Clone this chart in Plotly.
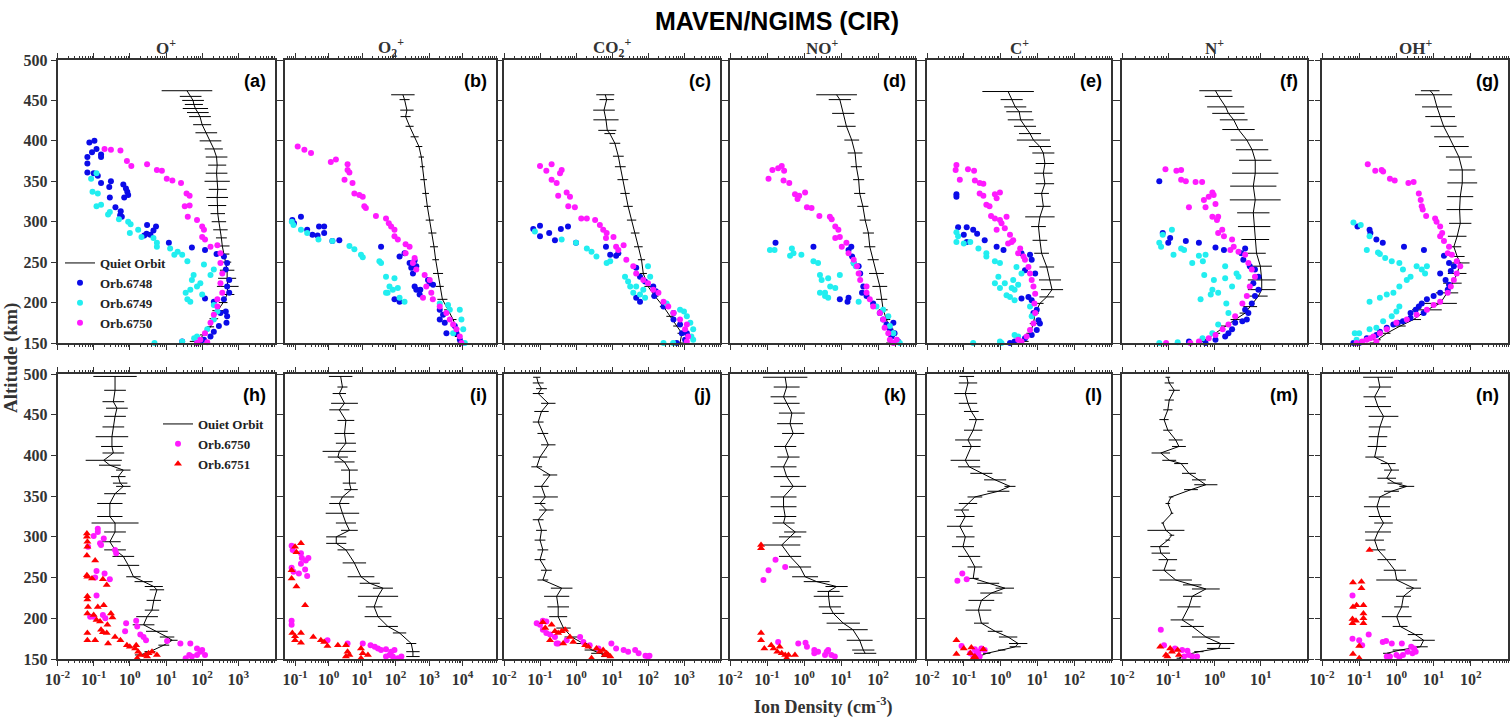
import plotly.graph_objects as go

W, H = 1510, 722

# ---------------- data ----------------
# top row quiet orbits: altitude (km), density (cm^-3), error half-width (decades)
a_q_alt = [462, 455, 450, 445, 440, 435, 430, 420, 410, 400, 390, 380, 370, 360, 350, 340, 330, 320, 310, 300, 290, 280, 270, 260, 250, 240, 230, 220, 210, 200, 190, 180, 170, 160, 152]
a_q_den = [38, 48, 56, 59, 65, 76, 87, 100, 130, 170, 210, 250, 260, 250, 260, 270, 260, 260, 270, 290, 320, 340, 360, 400, 450, 490, 490, 510, 490, 380, 270, 210, 170, 110, 72]
a_q_err = [0.7, 0.3, 0.3, 0.25, 0.35, 0.3, 0.3, 0.25, 0.3, 0.3, 0.25, 0.3, 0.25, 0.3, 0.35, 0.25, 0.3, 0.25, 0.2, 0.2, 0.2, 0.15, 0.2, 0.15, 0.15, 0.2, 0.25, 0.3, 0.2, 0.12, 0.15, 0.12, 0.1, 0.1, 0.2]

b_q_alt = [457, 451, 438, 430, 418, 405, 393, 380, 368, 352, 335, 319, 302, 286, 269, 253, 236, 220, 204, 191, 179, 168, 158, 150]
b_q_den = [166, 186, 219, 200, 263, 372, 501, 589, 631, 692, 794, 891, 1050, 1260, 1410, 1580, 1860, 2090, 2510, 3720, 5250, 6610, 7410, 7940]
b_q_err = [0.35, 0.15, 0.2, 0.15, 0.12, 0.12, 0.1, 0.08, 0.07, 0.1, 0.1, 0.1, 0.12, 0.12, 0.12, 0.1, 0.15, 0.12, 0.15, 0.12, 0.1, 0.08, 0.1, 0.05]

c_q_alt = [457, 451, 438, 426, 413, 409, 397, 381, 368, 352, 335, 319, 302, 286, 269, 253, 236, 220, 208, 195, 183, 171, 162, 150]
c_q_den = [6.5, 7.1, 6.0, 6.8, 7.4, 8.7, 12, 15, 17, 20, 23, 28, 35, 44, 54, 66, 74, 100, 155, 269, 407, 631, 871, 776]
c_q_err = [0.25, 0.2, 0.3, 0.35, 0.25, 0.15, 0.15, 0.15, 0.15, 0.15, 0.13, 0.13, 0.13, 0.12, 0.12, 0.1, 0.1, 0.1, 0.1, 0.1, 0.1, 0.1, 0.12, 0.15]

d_q_alt = [457, 451, 434, 418, 401, 385, 368, 352, 335, 319, 302, 286, 269, 253, 236, 220, 204, 191, 179, 167, 158, 150]
d_q_den = [7.6, 9.3, 11.5, 14, 19.5, 24, 26, 30, 32, 39, 45, 55, 60, 74, 91, 112, 126, 138, 170, 209, 234, 209]
d_q_err = [0.55, 0.3, 0.3, 0.25, 0.2, 0.2, 0.15, 0.15, 0.15, 0.15, 0.15, 0.15, 0.15, 0.15, 0.2, 0.2, 0.15, 0.12, 0.1, 0.1, 0.08, 0.1]

e_q_alt = [461, 451, 442, 436, 426, 418, 409, 401, 393, 385, 372, 360, 347, 335, 319, 306, 294, 277, 261, 244, 228, 216, 207, 199, 187, 174, 162, 152]
e_q_den = [1.6, 2.0, 2.5, 3.2, 3.5, 4.6, 6.3, 7.8, 11.7, 14.5, 16, 14.5, 16, 13, 14.5, 11.7, 10.7, 11.7, 13, 18, 22, 25, 18, 11.7, 8.7, 7.8, 6.3, 4.6]
e_q_err = [0.7, 0.3, 0.3, 0.35, 0.35, 0.3, 0.3, 0.45, 0.3, 0.3, 0.25, 0.25, 0.25, 0.2, 0.2, 0.4, 0.2, 0.2, 0.2, 0.2, 0.3, 0.3, 0.2, 0.1, 0.1, 0.1, 0.1, 0.1]

f_q_alt = [462, 455, 442, 434, 426, 414, 401, 389, 376, 360, 344, 327, 311, 294, 278, 261, 245, 228, 216, 208, 195, 187, 179, 171, 162, 154, 150]
f_q_den = [1.05, 1.23, 1.74, 2.0, 2.6, 3.3, 5.0, 6.5, 7.6, 7.6, 6.9, 7.6, 6.9, 7.2, 7.6, 8.1, 9.8, 10.5, 10.5, 8.9, 5.9, 4.6, 2.8, 1.74, 1.05, 0.65, 0.46]
f_q_err = [0.35, 0.3, 0.4, 0.35, 0.3, 0.35, 0.35, 0.35, 0.35, 0.5, 0.5, 0.55, 0.35, 0.35, 0.3, 0.2, 0.25, 0.3, 0.3, 0.2, 0.15, 0.12, 0.1, 0.1, 0.1, 0.08, 0.05]

g_q_alt = [462, 457, 442, 430, 418, 405, 393, 380, 364, 348, 331, 315, 298, 282, 269, 257, 249, 236, 224, 212, 199, 191, 179, 171, 162, 154, 150]
g_q_den = [8.1, 10, 12.3, 15, 18.6, 26, 35, 48, 59, 59, 52, 50, 52, 43, 35, 43, 52, 43, 32, 23, 15, 6.6, 2.9, 1.26, 0.55, 0.3, 0.24]
g_q_err = [0.25, 0.5, 0.4, 0.4, 0.35, 0.4, 0.4, 0.35, 0.35, 0.4, 0.35, 0.35, 0.3, 0.25, 0.2, 0.2, 0.25, 0.25, 0.25, 0.3, 0.45, 0.4, 0.2, 0.15, 0.1, 0.1, 0.1]

# top row storm-time orbits
a_6748_den = [0.076, 0.105, 0.09, 0.12, 0.16, 0.16, 0.067, 0.067, 0.067, 0.1, 0.13, 0.16, 0.3, 0.27, 0.66, 0.78, 0.85, 0.7, 0.9, 0.28, 0.4, 0.56, 0.54, 0.6, 3.0, 5.3, 4.5, 3.7, 2.9, 2.5, 12, 52, 120, 250, 400, 490, 450, 560, 490, 560, 400, 120, 210, 450, 490, 470, 290, 210, 170, 112, 72, 28, 89, 320]
a_6748_alt = [398, 400, 386, 390, 383, 380, 380, 372, 361, 360, 357, 348, 350, 343, 346, 341, 337, 330, 333, 330, 318, 313, 308, 306, 296, 294, 289, 284, 285, 283, 274, 268, 265, 260, 257, 249, 241, 228, 220, 212, 204, 205, 201, 189, 183, 175, 171, 164, 158, 154, 150, 152, 152, 187]
a_6749_den = [0.12, 0.085, 0.093, 0.13, 0.12, 0.16, 0.28, 0.25, 0.5, 0.9, 1.05, 1.7, 1.0, 2.1, 4.5, 5.6, 5.6, 13, 21, 17, 28, 39, 112, 210, 170, 58, 52, 89, 72, 47, 35, 100, 39, 47, 210, 263, 210, 138, 72, 28, 4.8, 60]
a_6749_alt = [360, 353, 337, 335, 319, 321, 312, 309, 303, 300, 297, 290, 286, 281, 280, 274, 269, 267, 263, 259, 259, 251, 247, 241, 234, 234, 228, 224, 220, 216, 212, 210, 204, 201, 197, 189, 179, 167, 158, 152, 150, 156]
a_6750_den = [0.2, 0.3, 0.55, 0.83, 1.1, 3.0, 5.6, 7.7, 10.5, 15, 26, 37, 45, 33, 45, 40, 72, 100, 112, 100, 120, 170, 263, 320, 320, 360, 320, 360, 263, 210, 170, 120, 89, 72, 263, 138]
a_6750_alt = [390, 389, 388, 375, 369, 371, 364, 363, 353, 351, 348, 335, 332, 319, 320, 306, 302, 294, 290, 281, 278, 269, 271, 261, 249, 236, 224, 212, 195, 185, 175, 162, 154, 150, 204, 151]

b_6748_den = [0.083, 0.15, 0.093, 0.23, 0.33, 0.47, 0.74, 0.52, 0.74, 1.3, 2.1, 37, 132, 186, 263, 372, 417, 295, 331, 372, 417, 525, 550, 933, 1050, 1320, 93, 132, 2090, 2630, 2090, 2950, 5890, 6610, 8320, 9330, 3310]
b_6748_alt = [302, 306, 298, 290, 284, 283, 294, 294, 286, 276, 277, 269, 257, 261, 249, 252, 245, 243, 236, 220, 216, 210, 216, 228, 224, 222, 204, 201, 191, 185, 179, 175, 171, 162, 154, 150, 162]
b_6749_den = [0.08, 0.09, 0.15, 0.23, 0.5, 1.3, 4.2, 5.9, 9.3, 10.5, 33, 37, 52, 66, 83, 58, 117, 132, 186, 93, 52, 2090, 3700, 8300, 9300, 10500, 11700, 4170, 5250]
b_6749_alt = [300, 296, 290, 286, 278, 276, 270, 266, 259, 256, 251, 249, 232, 220, 216, 212, 218, 206, 201, 230, 212, 199, 197, 191, 179, 167, 150, 191, 162]
b_6750_den = [0.12, 0.19, 0.3, 1.17, 1.66, 3.7, 3.7, 4.2, 3.0, 5.2, 5.9, 8.3, 10.5, 11.7, 13, 26, 52, 63, 74, 93, 93, 117, 200, 263, 200, 372, 330, 417, 740, 1050, 830, 1170, 1300, 660, 2090, 3300, 4170, 6600, 8300, 9300, 5250]
b_6750_alt = [393, 389, 385, 374, 377, 371, 364, 361, 352, 348, 335, 333, 331, 319, 317, 307, 304, 298, 294, 290, 282, 278, 272, 269, 261, 255, 249, 241, 234, 228, 220, 212, 204, 206, 195, 187, 179, 167, 158, 150, 173]

c_6748_den = [0.065, 0.1, 0.1, 0.18, 0.26, 0.38, 0.6, 1.0, 6.8, 8.9, 13, 15, 47, 60, 83, 140, 165, 150, 47, 60, 270, 510, 510, 776, 870, 1070, 630, 1200]
c_6748_alt = [291, 295, 282, 286, 277, 291, 294, 274, 269, 259, 258, 261, 243, 232, 226, 220, 214, 208, 206, 201, 195, 187, 179, 173, 162, 154, 150, 162]
c_6749_den = [0.072, 0.4, 1.0, 2.0, 2.7, 3.7, 7.1, 8.9, 23, 28, 32, 47, 39, 60, 83, 100, 115, 74, 330, 776, 1000, 1200, 1500, 1800, 1600, 1800, 270, 500]
c_6749_alt = [288, 278, 274, 267, 263, 257, 249, 251, 232, 226, 220, 220, 212, 210, 206, 245, 232, 216, 199, 191, 189, 183, 175, 167, 158, 154, 150, 150]
c_6750_den = [0.1, 0.15, 0.21, 0.4, 0.36, 0.21, 0.29, 0.32, 0.55, 0.68, 0.61, 0.93, 1.4, 2.0, 3.4, 4.6, 5.7, 7.1, 6.8, 11, 13, 15, 21, 25, 39, 47, 74, 100, 140, 195, 270, 365, 510, 776, 1200, 1070, 1300, 1200]
c_6750_alt = [369, 363, 371, 364, 360, 352, 348, 332, 336, 331, 319, 318, 304, 304, 302, 296, 290, 286, 280, 281, 269, 265, 271, 253, 245, 236, 228, 224, 216, 212, 201, 195, 187, 179, 173, 167, 158, 152]

d_6748_den = [0.17, 1.8, 16, 19, 20, 22, 30, 33, 40, 37, 49, 9.3, 16, 15, 74, 112, 138, 170, 209, 260, 280, 350, 234]
d_6748_alt = [274, 269, 265, 269, 257, 249, 245, 236, 220, 212, 208, 204, 206, 201, 199, 187, 179, 173, 167, 175, 162, 152, 158]
d_6749_den = [0.12, 0.16, 0.47, 0.42, 0.52, 0.85, 1.8, 2.4, 2.7, 4.5, 3.0, 7.0, 5.1, 3.7, 2.7, 3.7, 4.5, 30, 9.3, 22, 25, 91, 138, 190, 209, 260, 320, 390]
d_6749_alt = [265, 265, 267, 258, 261, 259, 251, 249, 234, 230, 228, 218, 220, 212, 212, 208, 206, 201, 234, 249, 245, 195, 191, 183, 171, 162, 154, 150]
d_6750_den = [0.14, 0.2, 0.25, 0.29, 0.11, 0.28, 0.4, 0.57, 0.74, 1.07, 0.67, 1.2, 1.6, 2.6, 5, 5.6, 7.0, 8.5, 7.0, 9.3, 10.5, 14, 16, 22, 27, 30, 33, 49, 49, 60, 74, 112, 138, 151, 190, 209, 260, 320]
d_6750_alt = [364, 366, 369, 363, 353, 351, 348, 334, 332, 336, 328, 318, 317, 307, 306, 303, 294, 290, 280, 281, 269, 274, 261, 253, 245, 236, 228, 220, 212, 204, 195, 187, 179, 169, 162, 154, 150, 154]

e_6748_den = [0.063, 0.063, 0.07, 0.1, 0.12, 0.18, 0.23, 0.12, 0.37, 0.78, 1.2, 3.7, 6.3, 4.6, 7.0, 8.7, 5.7, 3.7, 7.0, 9.6, 10.7, 11.7, 9.6, 7.0, 4.6, 2.4, 1.8, 7.8]
e_6748_alt = [334, 331, 293, 284, 293, 290, 285, 275, 277, 269, 265, 261, 259, 240, 253, 236, 207, 205, 203, 191, 178, 174, 166, 160, 156, 152, 150, 187]
e_6749_den = [0.063, 0.063, 0.07, 0.1, 0.15, 0.25, 0.41, 0.41, 0.7, 0.96, 2.7, 3.7, 0.87, 0.7, 1.3, 2.2, 2.0, 0.96, 1.45, 1.8, 2.4, 3.0, 2.4, 6.3, 7.0, 2.4, 0.96, 0.18, 1.06, 3.0]
e_6749_alt = [287, 275, 282, 273, 275, 267, 261, 257, 251, 249, 244, 236, 232, 224, 224, 228, 218, 218, 209, 207, 216, 222, 203, 195, 183, 160, 152, 150, 150, 158]
e_6750_den = [0.063, 0.06, 0.078, 0.13, 0.19, 0.2, 0.27, 0.34, 0.27, 0.34, 0.7, 0.96, 0.78, 0.41, 0.5, 0.55, 0.7, 0.96, 1.06, 1.45, 1.3, 0.78, 1.8, 2.0, 1.6, 2.2, 3.4, 3.0, 4.2, 4.6, 5.7, 6.3, 7.0, 7.8, 8.7, 8.3, 8.7, 7.8, 6.3, 5.1, 3.7, 3.0]
e_6750_alt = [370, 364, 352, 365, 363, 351, 348, 347, 335, 332, 334, 336, 329, 321, 319, 307, 304, 302, 298, 306, 292, 290, 284, 275, 273, 277, 267, 261, 257, 253, 244, 236, 228, 220, 211, 199, 187, 174, 166, 158, 152, 154]

f_6748_den = [0.064, 0.076, 0.11, 0.1, 0.24, 0.46, 1.05, 1.6, 4.6, 3.8, 4.2, 5.8, 7.5, 8.9, 6.9, 8.9, 7.5, 6.4, 5.4, 5.0, 4.0, 2.8, 2.4, 2.0, 1.7, 1.05, 0.64, 0.28, 4.6]
f_6748_alt = [350, 286, 280, 274, 276, 274, 268, 265, 267, 261, 253, 245, 241, 232, 224, 216, 208, 199, 187, 179, 177, 175, 167, 162, 158, 154, 150, 152, 191]
f_6749_den = [0.064, 0.07, 0.076, 0.12, 0.19, 0.22, 0.13, 0.33, 0.46, 0.56, 0.64, 1.7, 0.6, 0.97, 1.7, 0.9, 0.83, 1.2, 0.5, 3.0, 3.3, 2.4, 1.8, 2.0, 1.2, 0.9, 0.55, 0.064, 0.16]
f_6749_alt = [274, 269, 284, 290, 267, 265, 259, 249, 258, 251, 259, 245, 234, 228, 230, 216, 210, 212, 204, 236, 232, 220, 199, 187, 173, 162, 156, 150, 151]
f_6750_den = [0.087, 0.15, 0.19, 0.19, 0.24, 0.39, 0.54, 0.28, 0.64, 0.59, 0.75, 0.9, 0.96, 1.05, 0.9, 1.13, 1.2, 1.47, 1.2, 1.6, 2.4, 2.6, 2.2, 3.3, 4.6, 5.4, 6.4, 7.5, 5.8, 5.0, 4.0, 2.8, 2.0, 1.5, 1.05, 0.75, 0.46, 0.3, 0.09]
f_6750_alt = [365, 363, 364, 352, 350, 349, 349, 318, 318, 327, 331, 336, 333, 322, 306, 302, 306, 290, 286, 282, 278, 269, 265, 263, 259, 249, 241, 232, 220, 208, 199, 183, 173, 167, 160, 156, 152, 150, 150]

g_6748_den = [0.09, 0.19, 0.2, 0.29, 0.43, 1.6, 5.5, 19, 26, 35, 29, 15, 21, 26, 24, 15, 10, 6.6, 4.8, 4.0, 3.3, 2.4, 2.4, 1.5, 1.1, 0.83, 0.55, 0.36, 0.29, 0.16, 0.1, 0.07, 5.4]
g_6748_alt = [294, 290, 286, 278, 274, 269, 265, 258, 249, 245, 239, 236, 228, 222, 216, 212, 208, 204, 199, 195, 191, 187, 181, 177, 175, 173, 169, 164, 160, 156, 150, 150, 187]
g_6749_den = [0.07, 0.11, 0.19, 0.16, 0.32, 0.36, 0.5, 0.75, 1.2, 1.5, 3.5, 4.8, 6.6, 5.9, 2.4, 1.9, 1.2, 0.83, 0.55, 0.36, 0.19, 1.2, 1.0, 0.75, 0.44, 0.29, 0.19, 0.1, 0.076, 0.085]
g_6749_alt = [299, 296, 282, 265, 262, 260, 255, 251, 249, 241, 245, 241, 245, 236, 232, 228, 220, 212, 210, 206, 201, 195, 189, 183, 177, 169, 167, 162, 162, 154]
g_6750_den = [0.17, 0.27, 0.4, 0.44, 0.67, 0.9, 2.1, 2.9, 4.0, 4.5, 4.8, 5.1, 6.3, 11, 12, 15, 17, 15, 19, 26, 24, 31, 42, 52, 42, 35, 29, 24, 15, 10, 6.6, 3.5, 1.9, 1.0, 0.55, 0.36, 0.24, 0.16, 0.12, 0.085, 0.29, 0.2]
g_6750_alt = [371, 363, 364, 362, 353, 351, 348, 349, 335, 327, 319, 315, 307, 304, 300, 294, 286, 282, 276, 269, 261, 259, 251, 245, 236, 228, 220, 212, 201, 197, 191, 185, 179, 175, 167, 162, 158, 154, 152, 150, 152, 156]

# bottom row quiet orbits
h_q_alt = [497, 480, 466, 458, 448, 435, 423, 411, 403, 394, 388, 382, 374, 366, 362, 353, 341, 325, 317, 306, 294, 284, 276, 265, 251, 245, 239, 235, 222, 210, 202, 192, 184, 177, 173, 167, 159, 155]
h_q_den = [0.39, 0.39, 0.35, 0.44, 0.39, 0.35, 0.32, 0.32, 0.35, 0.19, 0.28, 0.66, 0.48, 0.54, 0.66, 0.39, 0.28, 0.28, 0.39, 0.39, 0.28, 0.39, 0.66, 0.91, 1.26, 2.4, 4.6, 5.6, 4.6, 4.1, 3.0, 2.4, 5.6, 10.7, 14.8, 8.7, 3.6, 1.95]
h_q_err = [0.6, 0.3, 0.3, 0.3, 0.3, 0.3, 0.45, 0.3, 0.3, 0.5, 0.3, 0.2, 0.2, 0.2, 0.2, 0.3, 0.35, 0.35, 0.65, 0.3, 0.3, 0.3, 0.3, 0.3, 0.2, 0.25, 0.25, 0.2, 0.2, 0.2, 0.3, 0.3, 0.3, 0.2, 0.15, 0.15, 0.15, 0.15]

i_q_alt = [497, 484, 476, 464, 456, 443, 427, 415, 405, 398, 392, 382, 366, 358, 349, 341, 329, 317, 308, 300, 292, 284, 268, 251, 243, 237, 227, 214, 202, 190, 182, 169, 159, 153]
i_q_den = [2.3, 2.6, 2.1, 3.0, 2.1, 3.3, 3.0, 3.3, 2.1, 1.9, 3.0, 4.2, 4.2, 4.7, 2.6, 2.1, 2.6, 3.3, 4.2, 1.7, 1.7, 3.3, 5.9, 9.3, 17, 42, 30, 23, 30, 59, 132, 295, 331, 331]
i_q_err = [0.35, 0.15, 0.2, 0.4, 0.3, 0.25, 0.3, 0.3, 0.5, 0.3, 0.3, 0.25, 0.2, 0.2, 0.35, 0.3, 0.5, 0.3, 0.25, 0.3, 0.3, 0.25, 0.35, 0.4, 0.3, 0.3, 0.6, 0.25, 0.4, 0.3, 0.2, 0.15, 0.2, 0.2]

j_q_alt = [496, 489, 482, 476, 464, 454, 441, 427, 413, 398, 386, 376, 362, 349, 341, 333, 321, 308, 296, 284, 272, 259, 247, 237, 227, 214, 202, 188, 177, 169, 161, 157, 153]
j_q_den = [0.081, 0.089, 0.11, 0.089, 0.17, 0.11, 0.089, 0.12, 0.17, 0.1, 0.081, 0.19, 0.11, 0.14, 0.1, 0.15, 0.089, 0.11, 0.1, 0.12, 0.1, 0.15, 0.12, 0.4, 0.29, 0.32, 0.32, 0.45, 0.76, 1.6, 2.75, 4.7, 7.1]
j_q_err = [0.1, 0.15, 0.15, 0.15, 0.2, 0.2, 0.15, 0.15, 0.2, 0.2, 0.15, 0.2, 0.2, 0.35, 0.15, 0.2, 0.15, 0.15, 0.15, 0.15, 0.15, 0.15, 0.15, 0.3, 0.35, 0.3, 0.25, 0.2, 0.2, 0.2, 0.2, 0.25, 0.15]

k_q_alt = [496, 484, 472, 464, 452, 439, 427, 411, 398, 386, 374, 362, 349, 337, 325, 317, 306, 300, 290, 276, 263, 251, 245, 239, 233, 227, 214, 206, 194, 186, 173, 161, 157]
k_q_den = [0.31, 0.34, 0.28, 0.34, 0.47, 0.42, 0.51, 0.31, 0.38, 0.28, 0.34, 0.51, 0.28, 0.28, 0.31, 0.28, 0.58, 0.42, 0.25, 0.42, 0.78, 1.07, 2.2, 7.6, 4.6, 4.6, 5.0, 6.2, 11.5, 21, 32, 40, 45]
k_q_err = [0.6, 0.35, 0.35, 0.35, 0.35, 0.35, 0.3, 0.3, 0.3, 0.35, 0.35, 0.35, 0.35, 0.35, 0.3, 0.3, 0.3, 0.3, 0.5, 0.3, 0.3, 0.35, 0.35, 0.3, 0.3, 0.4, 0.3, 0.3, 0.45, 0.4, 0.35, 0.3, 0.3]

l_q_alt = [497, 489, 476, 464, 454, 444, 431, 419, 411, 394, 386, 378, 370, 362, 356, 349, 341, 333, 325, 313, 300, 288, 276, 263, 249, 243, 237, 231, 222, 210, 194, 184, 177, 169, 165, 161, 157, 151]
l_q_den = [0.12, 0.13, 0.11, 0.13, 0.16, 0.22, 0.18, 0.13, 0.16, 0.11, 0.14, 0.3, 0.71, 1.8, 0.87, 0.2, 0.13, 0.087, 0.11, 0.078, 0.11, 0.095, 0.14, 0.2, 0.18, 0.46, 1.3, 0.56, 0.3, 0.25, 0.3, 0.71, 1.6, 3.0, 2.5, 1.07, 0.42, 0.2]
l_q_err = [0.2, 0.25, 0.3, 0.25, 0.2, 0.2, 0.25, 0.35, 0.25, 0.4, 0.3, 0.3, 0.3, 0.15, 0.3, 0.2, 0.25, 0.2, 0.25, 0.35, 0.25, 0.3, 0.3, 0.2, 0.15, 0.3, 0.25, 0.3, 0.35, 0.35, 0.2, 0.2, 0.25, 0.25, 0.15, 0.1, 0.1, 0.1]

m_q_alt = [496, 489, 480, 468, 456, 444, 431, 419, 411, 403, 394, 390, 378, 370, 364, 358, 349, 341, 329, 317, 308, 302, 296, 288, 280, 272, 259, 247, 241, 236, 227, 214, 198, 190, 177, 169, 163, 159, 155, 151]
m_q_den = [0.098, 0.105, 0.135, 0.105, 0.098, 0.081, 0.098, 0.145, 0.17, 0.069, 0.105, 0.19, 0.28, 0.46, 0.65, 0.31, 0.115, 0.098, 0.12, 0.076, 0.089, 0.12, 0.098, 0.065, 0.069, 0.098, 0.081, 0.145, 0.33, 0.65, 0.33, 0.28, 0.2, 0.33, 0.65, 1.35, 1.23, 0.46, 0.24, 0.17]
m_q_err = [0.05, 0.1, 0.12, 0.1, 0.1, 0.1, 0.1, 0.15, 0.15, 0.2, 0.15, 0.15, 0.15, 0.15, 0.25, 0.15, 0.05, 0.05, 0.03, 0.03, 0.4, 0.05, 0.05, 0.2, 0.2, 0.2, 0.25, 0.35, 0.2, 0.3, 0.2, 0.25, 0.25, 0.25, 0.3, 0.3, 0.25, 0.1, 0.05, 0.05]

n_q_alt = [496, 484, 472, 460, 448, 435, 423, 411, 398, 390, 382, 372, 366, 362, 356, 349, 337, 325, 317, 306, 296, 284, 272, 259, 247, 237, 227, 214, 202, 190, 180, 173, 165, 161, 157]
n_q_den = [0.32, 0.36, 0.26, 0.32, 0.45, 0.36, 0.32, 0.3, 0.26, 0.6, 0.74, 0.55, 0.91, 1.9, 0.74, 0.36, 0.3, 0.36, 0.45, 0.32, 0.26, 0.32, 0.55, 0.91, 1.02, 2.9, 1.55, 1.38, 1.02, 1.26, 3.2, 5.4, 4.4, 1.26, 0.55]
n_q_err = [0.4, 0.3, 0.3, 0.35, 0.4, 0.3, 0.25, 0.25, 0.25, 0.2, 0.2, 0.25, 0.2, 0.2, 0.2, 0.3, 0.35, 0.3, 0.25, 0.35, 0.25, 0.2, 0.25, 0.3, 0.55, 0.2, 0.2, 0.2, 0.4, 0.2, 0.2, 0.3, 0.2, 0.2, 0.1]

# bottom row storm-time orbits
h_6750_den = [0.13, 0.13, 0.1, 0.19, 0.15, 0.16, 0.07, 0.39, 0.42, 0.12, 0.2, 0.28, 0.11, 0.12, 0.08, 0.1, 0.18, 0.21, 0.79, 0.74, 1.5, 1.6, 1.95, 2.4, 2.8, 10.7, 25, 47, 72, 89, 100, 72, 52, 44, 35, 120]
h_6750_alt = [310, 306, 301, 298, 292, 290, 288, 284, 280, 258, 255, 248, 250, 228, 202, 202, 204, 200, 194, 184, 197, 190, 180, 177, 173, 172, 169, 169, 163, 159, 161, 155, 153, 155, 151, 155]
h_6751_den = [0.065, 0.065, 0.067, 0.067, 0.065, 0.11, 0.065, 0.067, 0.09, 0.18, 0.23, 0.067, 0.067, 0.07, 0.13, 0.19, 0.067, 0.1, 0.12, 0.15, 0.24, 0.3, 0.33, 0.16, 0.18, 0.067, 0.23, 0.39, 0.067, 0.11, 0.25, 0.55, 0.83, 1.0, 1.5, 1.4, 1.7, 1.95, 2.7, 3.3, 4.1, 5.6, 1.6, 3.0]
h_6751_alt = [304, 300, 294, 288, 277, 271, 253, 251, 249, 248, 241, 227, 223, 214, 214, 216, 206, 204, 198, 196, 192, 206, 201, 186, 183, 182, 182, 177, 173, 173, 169, 173, 167, 165, 167, 163, 159, 155, 155, 157, 159, 155, 151, 153]

i_6750_den = [0.079, 0.085, 0.15, 0.16, 0.21, 0.25, 0.15, 0.079, 0.09, 0.13, 0.2, 0.23, 0.079, 0.079, 0.93, 3.7, 10.5, 18, 24, 30, 37, 52, 74, 93, 66, 83, 117, 150, 52]
i_6750_alt = [289, 284, 280, 274, 271, 274, 267, 262, 257, 255, 260, 252, 197, 192, 173, 169, 169, 167, 165, 163, 161, 162, 159, 161, 155, 153, 151, 153, 153]
i_6751_den = [0.079, 0.079, 0.1, 0.15, 0.11, 0.11, 0.2, 0.083, 0.1, 0.15, 0.1, 0.15, 0.35, 0.59, 0.74, 0.93, 1.9, 3.3, 3.7, 3.3, 4.2, 9.3, 10.5, 15, 9.3]
i_6751_alt = [259, 249, 288, 292, 281, 239, 216, 182, 178, 182, 173, 170, 177, 173, 171, 166, 167, 167, 159, 153, 155, 163, 157, 155, 151]

j_6750_den = [0.081, 0.1, 0.12, 0.15, 0.12, 0.15, 0.19, 0.26, 0.32, 0.29, 0.55, 1.3, 1.6, 2.4, 4.2, 9.6, 13, 21, 28, 44, 55, 85, 100, 110]
j_6750_alt = [194, 192, 197, 196, 186, 182, 180, 177, 169, 169, 173, 177, 171, 167, 163, 169, 163, 161, 159, 161, 157, 154, 153, 154]
j_6751_den = [0.12, 0.21, 0.14, 0.26, 0.32, 0.4, 0.5, 0.19, 0.44, 0.68, 0.84, 1.8, 2.2, 3.7, 4.6, 5.7, 7.1, 7.9, 9.0, 2.7, 6.3]
j_6751_alt = [195, 192, 188, 184, 182, 184, 186, 173, 169, 177, 171, 167, 165, 163, 159, 161, 157, 155, 153, 151, 155]

k_6750_den = [0.17, 0.11, 0.08, 0.31, 0.2, 0.7, 1.1, 1.2, 1.9, 2.4, 4.1, 4.5, 3.7, 5.5, 6.8, 1.9]
k_6750_alt = [272, 259, 247, 263, 171, 169, 170, 165, 161, 159, 159, 161, 155, 155, 153, 157]
k_6751_den = [0.069, 0.069, 0.069, 0.069, 0.085, 0.13, 0.15, 0.22, 0.19, 0.25, 0.31, 0.38, 0.34, 0.57]
k_6751_alt = [290, 286, 182, 173, 163, 167, 163, 165, 159, 157, 155, 155, 151, 155]

l_6750_den = [0.091, 0.067, 0.12, 0.087, 0.2, 0.25, 0.3, 0.37, 0.22, 0.18, 0.27, 0.15]
l_6750_alt = [255, 246, 248, 166, 162, 159, 163, 161, 157, 154, 153, 157]
l_6751_den = [0.063, 0.1, 0.16, 0.063, 0.15, 0.2, 0.18, 0.34, 0.22]
l_6751_alt = [173, 163, 164, 156, 157, 153, 151, 162, 150]

m_6750_den = [0.069, 0.081, 0.14, 0.2, 0.26, 0.28, 0.33, 0.42, 0.22]
m_6750_alt = [186, 167, 163, 161, 160, 155, 153, 153, 153]
m_6751_den = [0.067, 0.089, 0.11, 0.12, 0.16, 0.17, 0.096]
m_6751_alt = [165, 155, 163, 159, 161, 155, 153]

n_6750_den = [0.066, 0.066, 0.1, 0.12, 0.18, 0.43, 0.53, 0.75, 1.4, 2.0, 2.5, 3.0, 3.3, 2.7, 1.5, 1.0, 0.67, 0.55, 1.2]
n_6750_alt = [228, 175, 173, 167, 180, 171, 172, 169, 169, 159, 165, 163, 159, 157, 155, 155, 153, 153, 152]
n_6751_den = [0.19, 0.068, 0.115, 0.115, 0.068, 0.085, 0.13, 0.13, 0.13, 0.13, 0.066, 0.066, 0.082, 0.1, 0.068, 0.1]
n_6751_alt = [284, 244, 245, 237, 214, 216, 216, 206, 200, 194, 199, 194, 197, 166, 156, 151]

# labels, axis decades
ions = ['O<sup>+</sup>', 'O<sub>2</sub><sup>+</sup>', 'CO<sub>2</sub><sup>+</sup>', 'NO<sup>+</sup>',
        'C<sup>+</sup>', 'N<sup>+</sup>', 'OH<sup>+</sup>']
panel_tags = ['(a)', '(b)', '(c)', '(d)', '(e)', '(f)', '(g)',
              '(h)', '(i)', '(j)', '(k)', '(l)', '(m)', '(n)']
x_log_range = [[-2, 4], [-1.3, 5], [-2, 4], [-2, 3], [-2, 3], [-2, 2], [-2, 3]]
x_label_exp = [[-2, -1, 0, 1, 2, 3], [-1, 0, 1, 2, 3, 4], [-2, -1, 0, 1, 2, 3],
               [-2, -1, 0, 1, 2], [-2, -1, 0, 1, 2], [-2, -1, 0, 1], [-2, -1, 0, 1, 2]]
alt_ticks = [150, 200, 250, 300, 350, 400, 450, 500]

# ---------------- layout geometry (pixels) ----------------
COL_PX = [(57.5, 274.5), (285, 496), (504, 720), (730, 915), (927, 1111), (1122, 1307), (1322, 1508)]
ROW_PX = [(60, 343), (374, 659)]

BLUE, CYAN, MAGENTA, RED = '#0b0be8', '#22eef0', '#ff1aff', '#ff0000'
STYLE = {
    '6748': dict(color=BLUE, symbol='circle', size=6),
    '6749': dict(color=CYAN, symbol='circle', size=6),
    '6750': dict(color=MAGENTA, symbol='circle', size=6),
    '6751': dict(color=RED, symbol='triangle-up', size=7),
}
SERIF = 'Liberation Serif'
SANS = 'Liberation Sans'
AXC = '#333333'

panels = [
    ((a_q_alt, a_q_den, a_q_err), [('6748', a_6748_alt, a_6748_den), ('6749', a_6749_alt, a_6749_den), ('6750', a_6750_alt, a_6750_den)]),
    ((b_q_alt, b_q_den, b_q_err), [('6748', b_6748_alt, b_6748_den), ('6749', b_6749_alt, b_6749_den), ('6750', b_6750_alt, b_6750_den)]),
    ((c_q_alt, c_q_den, c_q_err), [('6748', c_6748_alt, c_6748_den), ('6749', c_6749_alt, c_6749_den), ('6750', c_6750_alt, c_6750_den)]),
    ((d_q_alt, d_q_den, d_q_err), [('6748', d_6748_alt, d_6748_den), ('6749', d_6749_alt, d_6749_den), ('6750', d_6750_alt, d_6750_den)]),
    ((e_q_alt, e_q_den, e_q_err), [('6748', e_6748_alt, e_6748_den), ('6749', e_6749_alt, e_6749_den), ('6750', e_6750_alt, e_6750_den)]),
    ((f_q_alt, f_q_den, f_q_err), [('6748', f_6748_alt, f_6748_den), ('6749', f_6749_alt, f_6749_den), ('6750', f_6750_alt, f_6750_den)]),
    ((g_q_alt, g_q_den, g_q_err), [('6748', g_6748_alt, g_6748_den), ('6749', g_6749_alt, g_6749_den), ('6750', g_6750_alt, g_6750_den)]),
    ((h_q_alt, h_q_den, h_q_err), [('6750', h_6750_alt, h_6750_den), ('6751', h_6751_alt, h_6751_den)]),
    ((i_q_alt, i_q_den, i_q_err), [('6750', i_6750_alt, i_6750_den), ('6751', i_6751_alt, i_6751_den)]),
    ((j_q_alt, j_q_den, j_q_err), [('6750', j_6750_alt, j_6750_den), ('6751', j_6751_alt, j_6751_den)]),
    ((k_q_alt, k_q_den, k_q_err), [('6750', k_6750_alt, k_6750_den), ('6751', k_6751_alt, k_6751_den)]),
    ((l_q_alt, l_q_den, l_q_err), [('6750', l_6750_alt, l_6750_den), ('6751', l_6751_alt, l_6751_den)]),
    ((m_q_alt, m_q_den, m_q_err), [('6750', m_6750_alt, m_6750_den), ('6751', m_6751_alt, m_6751_den)]),
    ((n_q_alt, n_q_den, n_q_err), [('6750', n_6750_alt, n_6750_den), ('6751', n_6751_alt, n_6751_den)]),
]


def px_x(p):
    return p / W


def px_y(p):
    return 1 - p / H


fig = go.Figure()
layout = {}
annotations = []

for k, (quiet, orbits) in enumerate(panels):
    row, col = divmod(k, 7)
    suffix = '' if k == 0 else str(k + 1)
    xa, ya = 'x' + suffix, 'y' + suffix
    first_in_row = col == 0
    legend_name = 'legend' if row == 0 else 'legend2'

    q_alt, q_den, q_err = quiet
    plus = [v * (10 ** e - 1) for v, e in zip(q_den, q_err)]
    minus = [v * (1 - 10 ** -e) for v, e in zip(q_den, q_err)]
    fig.add_trace(go.Scatter(
        x=q_den, y=q_alt, mode='lines', xaxis=xa, yaxis=ya,
        line=dict(color='black', width=1),
        error_x=dict(type='data', symmetric=False, array=plus, arrayminus=minus,
                     color='black', thickness=1, width=0),
        name='Quiet Orbit' if row == 0 else 'Ouiet Orbit',
        showlegend=first_in_row, legend=legend_name, hoverinfo='skip'))

    for orb, alt, den in orbits:
        st = STYLE[orb]
        fig.add_trace(go.Scatter(
            x=den, y=alt, mode='markers', xaxis=xa, yaxis=ya,
            marker=dict(color=st['color'], symbol=st['symbol'], size=st['size'], line=dict(width=0)),
            name='Orb.' + orb, showlegend=first_in_row, legend=legend_name,
            cliponaxis=False))

    x0, x1 = COL_PX[col]
    y0, y1 = ROW_PX[row]
    exps = x_label_exp[col]
    layout['xaxis' + suffix] = dict(
        type='log', range=x_log_range[col], domain=[px_x(x0), px_x(x1)], anchor=ya,
        automargin=False,
        tickmode='array', tickvals=[10 ** e for e in exps],
        ticktext=['10<sup>%d</sup>' % e for e in exps],
        showticklabels=(row == 1), ticks='outside', ticklen=5, tickwidth=1.2, tickcolor=AXC,
        minor=dict(ticks='outside', ticklen=2.5, tickwidth=1, tickcolor=AXC, dtick='D1', showgrid=False),
        showline=True, linecolor=AXC, linewidth=1.6, mirror='allticks',
        showgrid=False, zeroline=False,
        tickfont=dict(family=SERIF, size=16, color=AXC, weight='bold'))
    layout['yaxis' + suffix] = dict(
        range=[150, 500], domain=[px_y(y1), px_y(y0)], anchor=xa,
        automargin=False,
        tickmode='array', tickvals=alt_ticks, showticklabels=first_in_row,
        ticks='outside', ticklen=5, tickwidth=1.2, tickcolor=AXC,
        showline=True, linecolor=AXC, linewidth=1.6, mirror='allticks',
        showgrid=False, zeroline=False,
        tickfont=dict(family=SERIF, size=16, color=AXC, weight='bold'))

    annotations.append(dict(
        text=panel_tags[k], x=px_x(x1 - 7), y=px_y(y0 + 9), xref='paper', yref='paper',
        xanchor='right', yanchor='top', showarrow=False,
        font=dict(family=SANS, size=18, color='black', weight='bold')))

for col, ion in enumerate(ions):
    x0, x1 = COL_PX[col]
    annotations.append(dict(
        text=ion, x=px_x((x0 + x1) / 2), y=px_y(47), xref='paper', yref='paper',
        xanchor='center', yanchor='middle', showarrow=False,
        font=dict(family=SERIF, size=17, color=AXC, weight='bold')))

annotations.append(dict(
    text='MAVEN/NGIMS (CIR)', x=px_x(777), y=px_y(21), xref='paper', yref='paper',
    xanchor='center', yanchor='middle', showarrow=False,
    font=dict(family=SANS, size=25, color='black', weight='bold')))
annotations.append(dict(
    text='Ion Density (cm<sup>-3</sup>)', x=px_x(823), y=px_y(706), xref='paper', yref='paper',
    xanchor='center', yanchor='middle', showarrow=False,
    font=dict(family=SERIF, size=18, color=AXC, weight='bold')))
annotations.append(dict(
    text='Altitude (km)', x=px_x(11), y=px_y(358), xref='paper', yref='paper',
    xanchor='center', yanchor='middle', showarrow=False, textangle=-90,
    font=dict(family=SERIF, size=19, color=AXC, weight='bold')))

legend_style = dict(font=dict(family=SERIF, size=13, color='#222222', weight='bold'),
                    bgcolor='rgba(0,0,0,0)', borderwidth=0, tracegroupgap=0,
                    itemwidth=30, xanchor='left', yanchor='top')
layout['legend'] = dict(x=px_x(60), y=px_y(248), **legend_style)
layout['legend2'] = dict(x=px_x(158), y=px_y(409), **legend_style)

fig.update_layout(
    width=W, height=H, margin=dict(l=0, r=0, t=0, b=0),
    paper_bgcolor='white', plot_bgcolor='white',
    annotations=annotations, **layout)

# the page body has a default 8px margin; remove it so the figure fills the window
fig.write_html("out.html", config={'displayModeBar': False},
               post_script="document.body.style.margin='0';")
